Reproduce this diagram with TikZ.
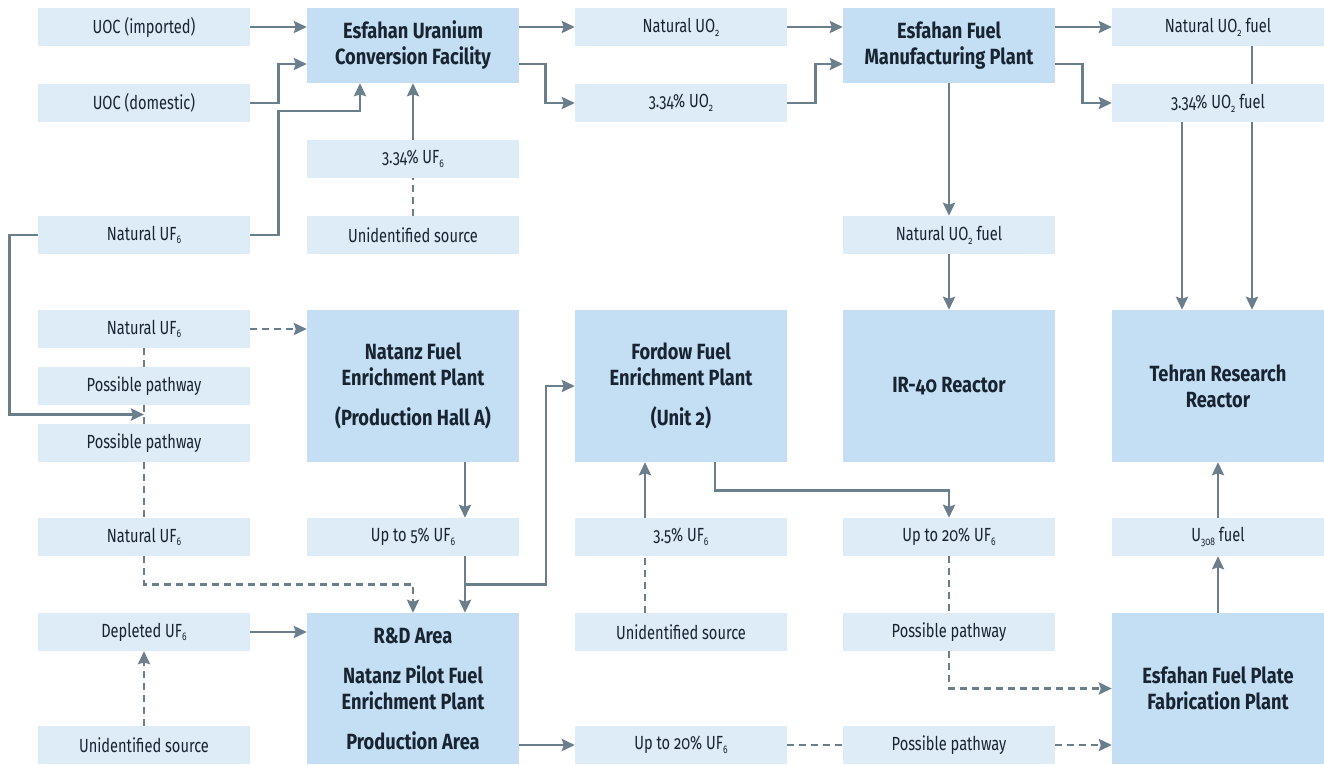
\documentclass[tikz,border=0pt]{standalone}
\usepackage{fontspec}
\setmainfont{Fira Sans}[FakeStretch=0.77, Numbers=OldStyle, BoldFeatures={FakeStretch=0.83}]
\usetikzlibrary{arrows.meta,calc}
\definecolor{lightbox}{RGB}{222,236,247}
\definecolor{darkbox}{RGB}{196,223,243}
\definecolor{linec}{RGB}{107,126,140}
\definecolor{textc}{RGB}{24,36,50}
\newcommand{\mysub}[1]{\raisebox{-0.2em}{\fontsize{11}{11}\selectfont #1}}
\begin{document}
\begin{tikzpicture}[x=1pt,y=-1pt,
  lbox/.style={fill=lightbox, minimum width=212pt, minimum height=38pt, inner sep=0pt, text=textc, font=\fontsize{19}{22}\selectfont},
  bbox/.style={fill=darkbox, minimum width=212pt, inner sep=0pt, align=center, text=textc, font=\bfseries\fontsize{22}{26}\selectfont},
  conn/.style={draw=linec, line width=2.9pt},
  arr/.style={conn, -{Stealth[length=13pt,width=12pt,inset=2pt]}},
  dsh/.style={dash pattern=on 7pt off 5pt}]
\useasboundingbox (0,0) rectangle (1324,764);
% column 1
\node[lbox] (uocimp) at (144,27) {UOC (imported)};
\node[lbox] (uocdom) at (144,103) {UOC (domestic)};
\node[lbox] (nufA) at (144,235) {Natural UF\mysub{6}};
\node[lbox] (nufB) at (144,329) {Natural UF\mysub{6}};
\node[lbox] (ppA) at (144,386) {Possible pathway};
\node[lbox] (ppB) at (144,443) {Possible pathway};
\node[lbox] (nufC) at (144,537) {Natural UF\mysub{6}};
\node[lbox] (dep) at (144,632) {Depleted UF\mysub{6}};
\node[lbox] (unidA) at (144,745) {Unidentified source};
% column 2
\node[bbox, minimum height=75pt] (ucf) at (413,45.5) {Esfahan Uranium\\Conversion Facility};
\node[lbox] (uf334) at (413,159) {3.34\% UF\mysub{6}};
\node[lbox] (unidB) at (413,235) {Unidentified source};
\node[bbox, minimum height=152pt] (nfep) at (413,386) {Natanz Fuel\\Enrichment Plant\\[14pt](Production Hall A)};
\node[lbox] (up5) at (413,537) {Up to 5\% UF\mysub{6}};
\node[bbox, minimum height=151pt] (rd) at (413,688.5) {R\&D Area\\[14pt]Natanz Pilot Fuel\\Enrichment Plant\\[14pt]Production Area};
% column 3
\node[lbox] (nuo2) at (681,27) {Natural UO\mysub{2}};
\node[lbox] (uo334) at (681,103) {3.34\% UO\mysub{2}};
\node[bbox, minimum height=152pt] (ffep) at (681,386) {Fordow Fuel\\Enrichment Plant\\[14pt](Unit 2)};
\node[lbox] (uf35) at (681,537) {3.5\% UF\mysub{6}};
\node[lbox] (unidC) at (681,632) {Unidentified source};
\node[lbox] (up20a) at (681,745) {Up to 20\% UF\mysub{6}};
% column 4
\node[bbox, minimum height=75pt] (efmp) at (949,45.5) {Esfahan Fuel\\Manufacturing Plant};
\node[lbox] (nuo2fA) at (949,235) {Natural UO\mysub{2} fuel};
\node[bbox, minimum height=152pt] (ir40) at (949,386) {IR-40 Reactor};
\node[lbox] (up20b) at (949,537) {Up to 20\% UF\mysub{6}};
\node[lbox] (ppC) at (949,632) {Possible pathway};
\node[lbox] (ppD) at (949,745) {Possible pathway};
% column 5
\node[lbox] (nuo2fB) at (1218,27) {Natural UO\mysub{2} fuel};
\node[lbox] (uo2f334) at (1218,103) {3.34\% UO\mysub{2} fuel};
\node[bbox, minimum height=152pt] (trr) at (1218,386) {Tehran Research\\Reactor};
\node[lbox] (u308) at (1218,537) {U\mysub{308} fuel};
\node[bbox, minimum height=151pt] (efpfp) at (1218,688.5) {Esfahan Fuel Plate\\Fabrication Plant};
% connectors: top
\draw[arr] (uocimp.east) -- (ucf.west |- uocimp.east);
\draw[arr] (uocdom.east) -- ++(28,0) |- ($(ucf.west)+(0,18.5)$);
\draw[arr] (nufA.east) -- ++(28,0) -- ++(0,-124) -| ($(ucf.south)+(-53,0)$);
\draw[arr] (uf334.north) -- (ucf.south);
\draw[conn,dsh] (unidB.north) -- (uf334.south);
\draw[arr] (ucf.east |- nuo2.west) -- (nuo2.west);
\draw[arr] ($(ucf.east)+(0,18.5)$) -- ++(26,0) |- (uo334.west);
\draw[arr] (nuo2.east) -- (efmp.west |- nuo2.east);
\draw[arr] (uo334.east) -- ++(28,0) |- ($(efmp.west)+(0,18.5)$);
\draw[arr] (efmp.east |- nuo2fB.west) -- (nuo2fB.west);
\draw[arr] ($(efmp.east)+(0,18.5)$) -- ++(27,0) |- (uo2f334.west);
\draw[arr] (efmp.south) -- (nuo2fA.north);
\draw[arr] (nuo2fA.south) -- (ir40.north);
\draw[conn] ($(nuo2fB.south)+(34,0)$) -- ($(uo2f334.north)+(34,0)$);
\draw[arr] ($(uo2f334.south)+(34,0)$) -- ($(trr.north)+(34,0)$);
\draw[arr] ($(uo2f334.south)+(-36,0)$) -- ($(trr.north)+(-36,0)$);
% column 1 pathways
\draw[arr] (nufA.west) -- ++(-28,0) |- ($(ppA.south)!0.5!(ppB.north)$);
\draw[arr,dsh] (nufB.east) -- (nfep.west |- nufB.east);
\draw[conn,dsh] (nufB.south) -- (ppA.north);
\draw[conn,dsh] (ppA.south) -- (ppB.north);
\draw[conn,dsh] (ppB.south) -- (nufC.north);
\draw[arr,dsh] (nufC.south) -- ++(0,28) -| (rd.north);
\draw[arr] (dep.east) -- (rd.west |- dep.east);
\draw[arr,dsh] (unidA.north) -- (dep.south);
% Natanz / Fordow
\draw[arr] ($(nfep.south)+(52,0)$) -- ($(up5.north)+(52,0)$);
\draw[arr] ($(up5.south)+(52,0)$) -- ($(rd.north)+(52,0)$);
\draw[arr] ($(up5.south)+(52,28)$) -- ++(81,0) |- (ffep.west);
\draw[arr] ($(uf35.north)+(-36,0)$) -- ($(ffep.south)+(-36,0)$);
\draw[conn,dsh] ($(unidC.north)+(-36,0)$) -- ($(uf35.south)+(-36,0)$);
\draw[arr] ($(ffep.south)+(34,0)$) -- ++(0,28) -| (up20b.north);
\draw[conn,dsh] (up20b.south) -- (ppC.north);
\draw[arr,dsh] (ppC.south) |- (efpfp.west);
% bottom row
\draw[arr] (rd.east |- up20a.west) -- (up20a.west);
\draw[conn,dsh] (up20a.east) -- (ppD.west);
\draw[arr,dsh] (ppD.east) -- (efpfp.west |- ppD.east);
\draw[arr] (efpfp.north) -- (u308.south);
\draw[arr] (u308.north) -- (trr.south);
\end{tikzpicture}
\end{document}
